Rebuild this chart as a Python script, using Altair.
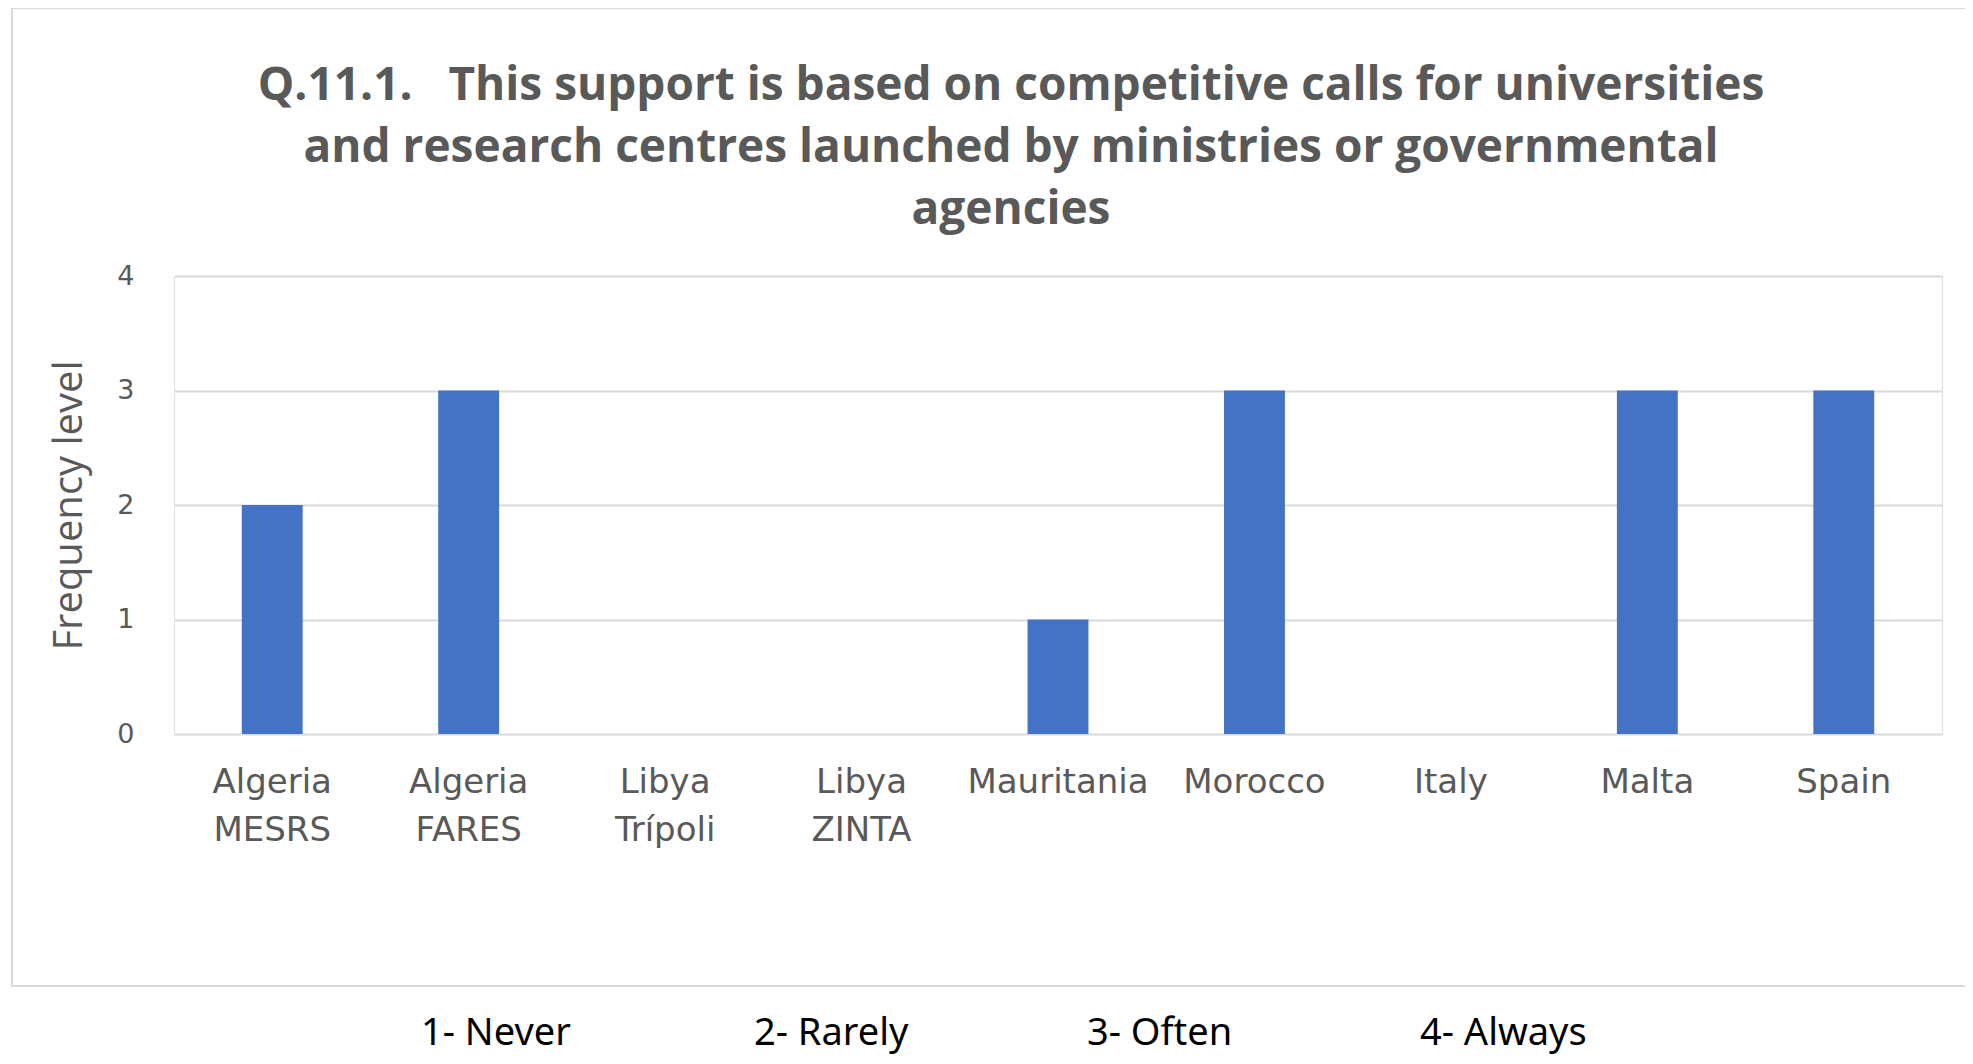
import altair as alt
import pandas as pd

categories = ["Algeria MESRS", "Algeria FARES", "Libya Trípoli", "Libya ZINTA",
              "Mauritania", "Morocco", "Italy", "Malta", "Spain"]
values = [2, 3, 0, 0, 1, 3, 0, 3, 3]
scale_labels = ["1- Never", "2- Rarely", "3- Often", "4- Always"]
y_ticks = [0, 1, 2, 3, 4]
title_lines = [
    "Q.11.1.\u00a0\u00a0 This support is based on competitive calls for universities",
    "and research centres launched by ministries or governmental",
    "agencies",
]

df = pd.DataFrame({"country": categories, "value": values})
legend_df = pd.DataFrame({"level": scale_labels})

W, H = 1768, 458
GREY = "#595959"

bars = alt.Chart(df).mark_bar(color="#4472C4").encode(
    x=alt.X(
        "country:N",
        sort=categories,
        scale=alt.Scale(paddingInner=0.69, paddingOuter=0.345),
        axis=alt.Axis(
            title=None,
            labelExpr="split(datum.label, ' ')",
            labelAngle=0,
            labelFont="DejaVu Sans",
            labelFontSize=34,
            labelColor=GREY,
            labelPadding=31,
            labelLineHeight=48,
            labelLimit=300,
            domain=False,
            ticks=False,
            grid=False,
        ),
    ),
    y=alt.Y(
        "value:Q",
        scale=alt.Scale(domain=[0, 4]),
        axis=alt.Axis(
            values=y_ticks,
            title="Frequency level",
            titleFont="Open Sans",
            titleFontSize=40,
            titleFontWeight="normal",
            titleColor=GREY,
            titleX=-105,
            titleY=H / 2,
            titleAngle=270,
            titleAlign="center",
            titleBaseline="middle",
            labelFont="DejaVu Sans",
            labelFontSize=27,
            labelColor=GREY,
            labelPadding=40,
            domain=False,
            ticks=False,
            grid=True,
            gridColor="#d9d9d9",
            gridWidth=2,
        ),
    ),
)

frame = alt.Chart(pd.DataFrame({"a": [0]})).mark_rect(
    filled=False, stroke="#d9d9d9", strokeWidth=2
).encode(
    x=alt.value(-162), x2=alt.value(W + 200), y=alt.value(-268), y2=alt.value(710)
)

leg = alt.Chart(legend_df).mark_point(opacity=0).encode(
    color=alt.Color(
        "level:N",
        sort=scale_labels,
        scale=alt.Scale(range=["#000000"] * 4),
        legend=alt.Legend(
            title=None,
            orient="none",
            legendX=209,
            legendY=739,
            direction="horizontal",
            columns=4,
            symbolSize=0,
            symbolOpacity=0,
            symbolStrokeWidth=0,
            labelFont="Noto Sans",
            labelFontSize=38,
            labelColor="#000000",
            labelOffset=0,
            labelLimit=400,
            gridAlign="all",
            columnPadding=128,
            padding=0,
        ),
    )
)

chart = alt.layer(frame, bars, leg).properties(
    width=W,
    height=H,
    padding={"left": 166, "top": 268, "right": 23, "bottom": 322},
    autosize="none",
    title=alt.TitleParams(
        text=title_lines,
        font="Open Sans",
        fontWeight="bold",
        fontSize=46,
        color=GREY,
        anchor="middle",
        frame="group",
        dx=-47,
        lineHeight=62,
        offset=-227,
    ),
).configure_view(stroke=None).configure(background="white")

chart.save("out.html", embed_options={"renderer": "svg", "actions": False})
